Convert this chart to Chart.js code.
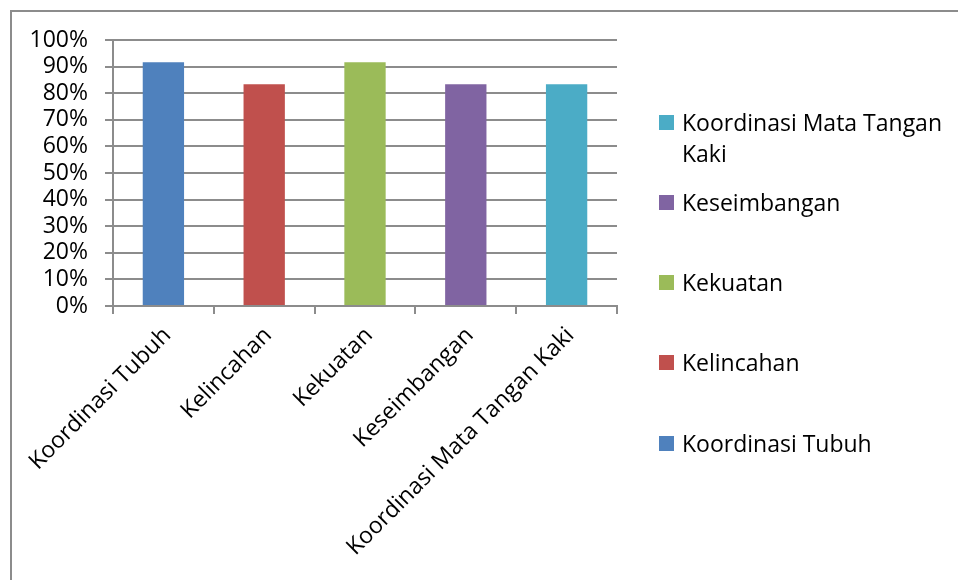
<!DOCTYPE html>
<html>
<head>
<meta charset="utf-8">
<script src="https://cdn.jsdelivr.net/npm/chart.js@4.4.1/dist/chart.umd.min.js"></script>
<style>
  body { margin: 0; background: #fff; overflow: hidden; }
  #wrap { position: relative; width: 958px; height: 580px; }
  #frame { position: absolute; left: 10px; top: 10px; width: 1000px; height: 700px; border: 2px solid #8c8c8c; box-sizing: border-box; }
  canvas { position: absolute; left: 0; top: 0; }
  #legend { position: absolute; left: 659px; top: 0; font-family: "Open Sans", sans-serif; font-size: 23px; color: #000; }
  .item { position: absolute; left: 0; width: 290px; }
  .box { position: absolute; left: 0; width: 15px; height: 15px; }
  .txt { position: absolute; left: 23px; width: 265px; line-height: 31px; white-space: normal; }
</style>
</head>
<body>
<div id="wrap">
  <div id="frame"></div>
  <canvas id="chart" width="958" height="580"></canvas>
  <div id="legend"></div>
</div>
<script>
const categories = ["Koordinasi Tubuh", "Kelincahan", "Kekuatan", "Keseimbangan", "Koordinasi Mata Tangan Kaki"];
const values = [91.67, 83.33, 91.67, 83.33, 83.33];
const barColors = ["#4F81BD", "#C0504D", "#9BBB59", "#8064A2", "#4BACC6"];
const yTicks = [0, 10, 20, 30, 40, 50, 60, 70, 80, 90, 100];

const font = { family: "'Open Sans', sans-serif", size: 23 };
const gridColor = "#8c8c8c";

new Chart(document.getElementById("chart").getContext("2d"), {
  type: "bar",
  data: {
    labels: categories,
    datasets: [{
      data: values,
      backgroundColor: barColors,
      barPercentage: 0.41,
      categoryPercentage: 1,
    }],
  },
  options: {
    responsive: false,
    animation: false,
    layout: { padding: { top: 40, right: 341, left: 0, bottom: 0 } },
    plugins: { legend: { display: false }, tooltip: { enabled: false } },
    scales: {
      x: {
        grid: { drawOnChartArea: false, drawTicks: true, tickLength: 8, color: gridColor, lineWidth: 2 },
        border: { color: gridColor, width: 2 },
        ticks: { font: font, color: "#000", minRotation: 45, maxRotation: 45, autoSkip: false, padding: 8, labelOffset: 4 },
        afterFit: (s) => { s.height = 274; },
      },
      y: {
        min: 0,
        max: 100,
        afterBuildTicks: (s) => { s.ticks = yTicks.map((v) => ({ value: v })); },
        grid: { color: gridColor, lineWidth: 2, tickLength: 8 },
        border: { color: gridColor, width: 2 },
        ticks: { font: font, color: "#000", padding: 17, autoSkip: false, callback: (v) => v + "%" },
        afterFit: (s) => { s.width = 113; },
      },
    },
  },
});

// legend on the right, in reverse order like the original
const legend = document.getElementById("legend");
const order = categories.map((c, i) => i).reverse();
order.forEach((idx, k) => {
  const item = document.createElement("div");
  item.className = "item";
  item.style.top = (122 + k * 80.3 - 15.5) + "px";
  const box = document.createElement("div");
  box.className = "box";
  box.style.top = "8px";
  box.style.background = barColors[idx];
  const txt = document.createElement("div");
  txt.className = "txt";
  txt.textContent = categories[idx];
  item.appendChild(box);
  item.appendChild(txt);
  legend.appendChild(item);
});
</script>
</body>
</html>
